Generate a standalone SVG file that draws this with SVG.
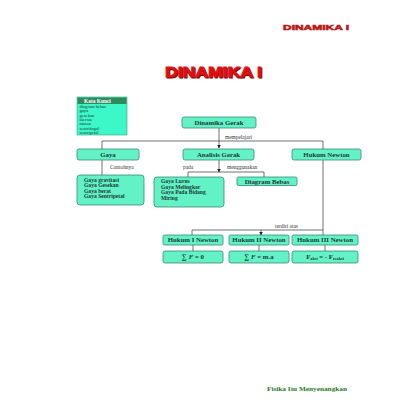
<svg xmlns="http://www.w3.org/2000/svg" width="407" height="407" viewBox="0 0 407 407">
<style>
.box{fill:#62f2c6;stroke:#3b8a74;stroke-width:0.8}
.lbl{font-family:"Liberation Serif",serif;font-weight:bold;font-size:6.8px;fill:#1e3a34;text-anchor:middle}
.lst{font-family:"Liberation Serif",serif;font-weight:bold;font-size:5.6px;fill:#1e3a34}
.small{font-family:"Liberation Serif",serif;font-size:5.4px;fill:#333}
.kk{font-family:"Liberation Serif",serif;font-size:4.6px;fill:#1e3a34}
.ln{stroke:#333;stroke-width:0.7;fill:none}
</style>
<defs>
<marker id="ah" markerWidth="4" markerHeight="4" refX="3.5" refY="2" orient="auto" markerUnits="userSpaceOnUse">
<path d="M0,0 L4,2 L0,4 Z" fill="#222"/>
</marker>
</defs>
<rect width="407" height="407" fill="#fff"/>
<text x="283" y="30" font-family="Liberation Sans,sans-serif" font-weight="bold" font-size="8" fill="#b81818" stroke="#b81818" stroke-width="0.6" textLength="66" lengthAdjust="spacingAndGlyphs">DINAMIKA I</text>
<g id="title">
<text x="166" y="77.5" font-family="Liberation Sans,sans-serif" font-weight="bold" font-size="15.5" fill="#7a0000" stroke="#7a0000" stroke-width="1" textLength="97" lengthAdjust="spacingAndGlyphs">DINAMIKA I</text>
<text x="165" y="76.5" font-family="Liberation Sans,sans-serif" font-weight="bold" font-size="15.5" fill="#e01010" stroke="#e01010" stroke-width="0.9" textLength="97" lengthAdjust="spacingAndGlyphs">DINAMIKA I</text>
</g>
<g id="kata-kunci">
<rect x="77" y="97" width="50" height="38" fill="#3cf7c8" stroke="#2b8a6a" stroke-width="0.5"/>
<rect x="77.5" y="97.5" width="49" height="6.5" fill="#2e8c5c"/>
<text x="84" y="102.8" font-family="Liberation Serif,serif" font-weight="bold" font-size="5.4" fill="#fff">Kata Kunci</text>
<text class="kk" x="79.5" y="107.8">diagram bebas</text>
<text class="kk" x="79.5" y="112.2">gaya</text>
<text class="kk" x="79.5" y="116.6">gesekan</text>
<text class="kk" x="79.5" y="121">inersia</text>
<text class="kk" x="79.5" y="125.4">massa</text>
<text class="kk" x="79.5" y="129.8">sentrifugal</text>
<text class="kk" x="79.5" y="134.2">sentripetal</text>
</g>
<g id="connectors">
<path class="ln" d="M219,128 V148" marker-end="url(#ah)"/>
<path class="ln" d="M102,149 V141 H323 V149"/>
<path class="ln" d="M102,160 V175"/>
<path class="ln" d="M219,160 V172" marker-end="url(#ah)"/>
<path class="ln" d="M188,177 V172 H264 V177"/>
<path class="ln" d="M323,160 V230 H192 V235"/>
<path class="ln" d="M323,230 V235"/>
<path class="ln" d="M261,230 V235" marker-end="url(#ah)"/>
<path class="ln" d="M193,245 V251 M259,245 V251 M325,245 V251"/>
<text class="small" x="225" y="138.5">mempelajari</text>
<text class="small" x="110" y="168.5">Contohnya</text>
<text class="small" x="183" y="169">pada</text>
<text class="small" x="227" y="169">menggunakan</text>
<text class="small" x="275" y="228">terdiri atas</text>
</g>
<g id="dinamika-gerak">
<rect class="box" x="182" y="117" width="74" height="11" rx="2"/>
<text class="lbl" x="219" y="124.8">Dinamika Gerak</text>
</g>
<g id="gaya">
<rect class="box" x="77" y="149" width="62" height="11" rx="2"/>
<text class="lbl" x="108" y="156.8">Gaya</text>
</g>
<g id="analisis-gerak">
<rect class="box" x="183" y="149" width="71" height="11" rx="2"/>
<text class="lbl" x="218.5" y="156.8">Analisis Gerak</text>
</g>
<g id="hukum-newton">
<rect class="box" x="292" y="149" width="69" height="11" rx="2"/>
<text class="lbl" x="326.5" y="156.8">Hukum Newton</text>
</g>
<g id="contoh-gaya">
<rect class="box" x="77" y="175" width="67" height="30" rx="3"/>
<text class="lst" x="84" y="181.8">Gaya gravitasi</text>
<text class="lst" x="84" y="187.3">Gaya Gesekan</text>
<text class="lst" x="84" y="192.8">Gaya berat</text>
<text class="lst" x="84" y="198.3">Gaya Sentripetal</text>
</g>
<g id="contoh-analisis">
<rect class="box" x="154" y="177" width="70" height="30" rx="3"/>
<text class="lst" x="161" y="183">Gaya Lurus</text>
<text class="lst" x="161" y="188.5">Gaya Melingkar</text>
<text class="lst" x="161" y="194">Gaya Pada Bidang</text>
<text class="lst" x="161" y="199.5">Miring</text>
</g>
<g id="diagram-bebas">
<rect class="box" x="237" y="177" width="60" height="8.5" rx="1.5"/>
<text class="lbl" x="267" y="183.5">Diagram Bebas</text>
</g>
<g id="hukum-1">
<rect class="box" x="163" y="235" width="60" height="10" rx="1.5"/>
<text class="lbl" x="193" y="242.3">Hukum I Newton</text>
</g>
<g id="hukum-2">
<rect class="box" x="229" y="235" width="60" height="10" rx="1.5"/>
<text class="lbl" x="259" y="242.3">Hukum II Newton</text>
</g>
<g id="hukum-3">
<rect class="box" x="292" y="235" width="66" height="10" rx="1.5"/>
<text class="lbl" x="325" y="242.3">Hukum III Newton</text>
</g>
<g id="rumus-1">
<rect class="box" x="163" y="251" width="60" height="12" rx="2"/>
<text class="lbl" x="193" y="259.3" font-weight="normal">∑ <tspan font-style="italic">F</tspan> = 0</text>
</g>
<g id="rumus-2">
<rect class="box" x="229" y="251" width="60" height="12" rx="2"/>
<text class="lbl" x="259" y="259.3" font-weight="normal">∑ <tspan font-style="italic">F</tspan> = m.a</text>
</g>
<g id="rumus-3">
<rect class="box" x="292" y="251" width="66" height="12" rx="2"/>
<text class="lbl" x="325" y="259.3" font-weight="normal">F<tspan font-size="4.2" dy="1">aksi</tspan><tspan dy="-1"> = - F</tspan><tspan font-size="4.2" dy="1">reaksi</tspan></text>
</g>
<text x="267" y="391" font-family="Liberation Serif,serif" font-weight="bold" font-size="6.8" fill="#1f7a1f" textLength="80" lengthAdjust="spacingAndGlyphs">Fisika Itu Menyenangkan</text>
</svg>
